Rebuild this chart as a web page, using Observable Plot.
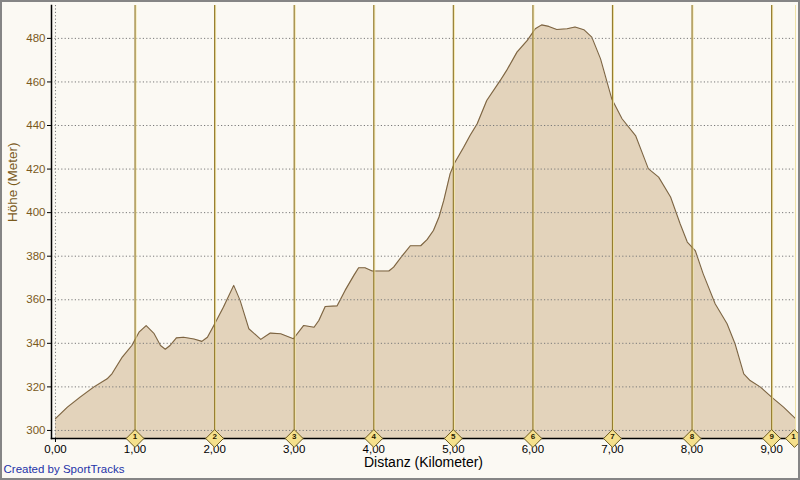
<!DOCTYPE html>
<html>
<head>
<meta charset="utf-8">
<script src="https://cdn.jsdelivr.net/npm/d3@7"></script>
<script src="https://cdn.jsdelivr.net/npm/@observablehq/plot@0.6"></script>
<style>
  html, body { margin: 0; padding: 0; background: #fbf9f3; }
  #wrap { position: relative; width: 800px; height: 480px; overflow: hidden; }
  #border { position: absolute; left: 0; top: 0; width: 800px; height: 480px; box-sizing: border-box; border: 2px solid #858585; pointer-events: none; }
</style>
</head>
<body>
<div id="wrap"><div id="chart"></div><div id="border"></div></div>
<script>
// distance along the route (km)
const dist = [0.00,0.15,0.31,0.48,0.65,0.71,0.84,0.96,1.05,1.14,1.24,1.32,1.38,1.44,1.52,1.61,1.74,1.84,1.91,1.99,2.11,2.24,2.32,2.43,2.58,2.70,2.83,2.99,3.12,3.25,3.31,3.39,3.54,3.64,3.75,3.81,3.89,3.98,4.19,4.25,4.36,4.46,4.59,4.67,4.75,4.82,4.88,4.96,5.01,5.13,5.21,5.30,5.42,5.59,5.67,5.80,5.93,6.03,6.11,6.20,6.30,6.43,6.53,6.64,6.74,6.85,6.99,7.12,7.29,7.45,7.58,7.73,7.85,7.94,8.04,8.14,8.29,8.44,8.54,8.65,8.73,8.86,9.00,9.15,9.30];
// elevation (m)
const elev = [305.4,310.7,315.3,319.9,323.7,326,333.7,339,345.1,348.1,344.4,339,337.3,339,342.5,342.8,342,340.9,342.8,348.2,356.6,366.6,359.7,346.7,341.8,344.7,344.4,342.1,348.2,347.4,350.5,356.9,357.2,364.3,371.2,374.7,374.7,373.2,373.2,375,380.3,384.8,384.8,387.6,391.8,398,405.6,417.9,422.4,430,435.4,440.8,451.5,460.7,465.3,473.7,479.1,484.4,486.2,485.5,484.1,484.4,485.2,484,480.6,470.6,452.3,443.1,435.4,420.2,416.3,407.2,394.9,386.5,382.6,371.9,358.2,349,339.8,326,322.9,319.9,315.3,310.7,305.4];
// axis ticks
const xTicks = [0,1,2,3,4,5,6,7,8,9];
const yTicks = [300,320,340,360,380,400,420,440,460,480];
// km markers
const markerKm = [1,2,3,4,5,6,7,8,9];
const markerLabel = ["1","2","3","4","5","6","7","8","9"];
const finishKm = 9.30;

const xDomain = [-0.05, 9.30];
const yDomain = [296.3, 495.1];

const data = dist.map((d, i) => ({d, e: elev[i]}));
const markers = markerKm.map((k, i) => ({k, t: markerLabel[i]}));

const FONT = "Liberation Sans, Arial, sans-serif";
const fmt = d => d.toFixed(2).replace(".", ",");

const chart = Plot.plot({
  width: 800,
  height: 480,
  marginLeft: 51,
  marginRight: 5,
  marginTop: 5,
  marginBottom: 42,
  style: {background: "#fbf9f3", fontFamily: FONT},
  x: {domain: xDomain, axis: null},
  y: {domain: yDomain, axis: null},
  marks: [
    Plot.areaY(data, {x: "d", y1: () => yDomain[0], y2: "e", fill: "#e3d3bb", curve: "linear"}),
    Plot.lineY(data, {x: "d", y: "e", stroke: "#7c6442", strokeWidth: 1.1}),
    Plot.ruleY(yTicks, {stroke: "#7a7a7a", strokeDasharray: "1.2,2.2", strokeWidth: 1}),
    Plot.ruleX([0], {stroke: "#7a7a7a", strokeDasharray: "1.2,2.2", strokeWidth: 1}),
    Plot.ruleX(markerKm, {stroke: "#f4e7a8", strokeWidth: 1, dx: 1}),
    Plot.ruleX(markerKm, {stroke: "#957d30", strokeWidth: 1.2}),
    Plot.ruleX([finishKm], {stroke: "#efe2a8", strokeWidth: 1}),
    Plot.frame({anchor: "left", stroke: "black", strokeWidth: 1.5}),
    Plot.frame({anchor: "bottom", stroke: "black", strokeWidth: 1.5}),
    Plot.axisY(yTicks, {label: null, tickSize: 4, tickPadding: 2, stroke: "black", fill: "#7a5a1c", fontSize: 11.5, fontFamily: FONT}),
    Plot.axisX(xTicks, {label: null, tickSize: 4, tickPadding: 2, stroke: "black", fill: "black", fontSize: 11.5, fontFamily: FONT, tickFormat: fmt}),
    Plot.dot(markers, {x: "k", frameAnchor: "bottom", symbol: "diamond2", r: 8, fill: "#f5e08c", stroke: "#6e5c20", strokeWidth: 1}),
    Plot.text(markers, {x: "k", frameAnchor: "bottom", text: "t", fontSize: 8, fontWeight: "bold", fill: "#2a2000", dy: 0.5}),
    Plot.dot([finishKm], {x: d => d, frameAnchor: "bottom", symbol: "diamond2", r: 8, fill: "#f5e08c", stroke: "#6e5c20", strokeWidth: 1, dx: -1}),
    Plot.text([finishKm], {x: d => d, frameAnchor: "bottom", text: () => "1", fontSize: 8, fontWeight: "bold", fill: "#2a2000", dy: 0.5, dx: -2}),
    Plot.text(["Distanz (Kilometer)"], {frameAnchor: "bottom", text: d => d, dy: 28, fontSize: 14, fill: "black", fontFamily: FONT}),
    Plot.text(["Höhe (Meter)"], {frameAnchor: "left", text: d => d, rotate: -90, dx: -39, fontSize: 13.5, fill: "#7a5a1c", fontFamily: FONT}),
    Plot.text(["Created by SportTracks"], {frameAnchor: "bottom-left", text: d => d, textAnchor: "start", dx: -48, dy: 34, fontSize: 11.5, fill: "#2433a8", fontFamily: FONT})
  ]
});
document.getElementById("chart").appendChild(chart);
</script>
</body>
</html>
